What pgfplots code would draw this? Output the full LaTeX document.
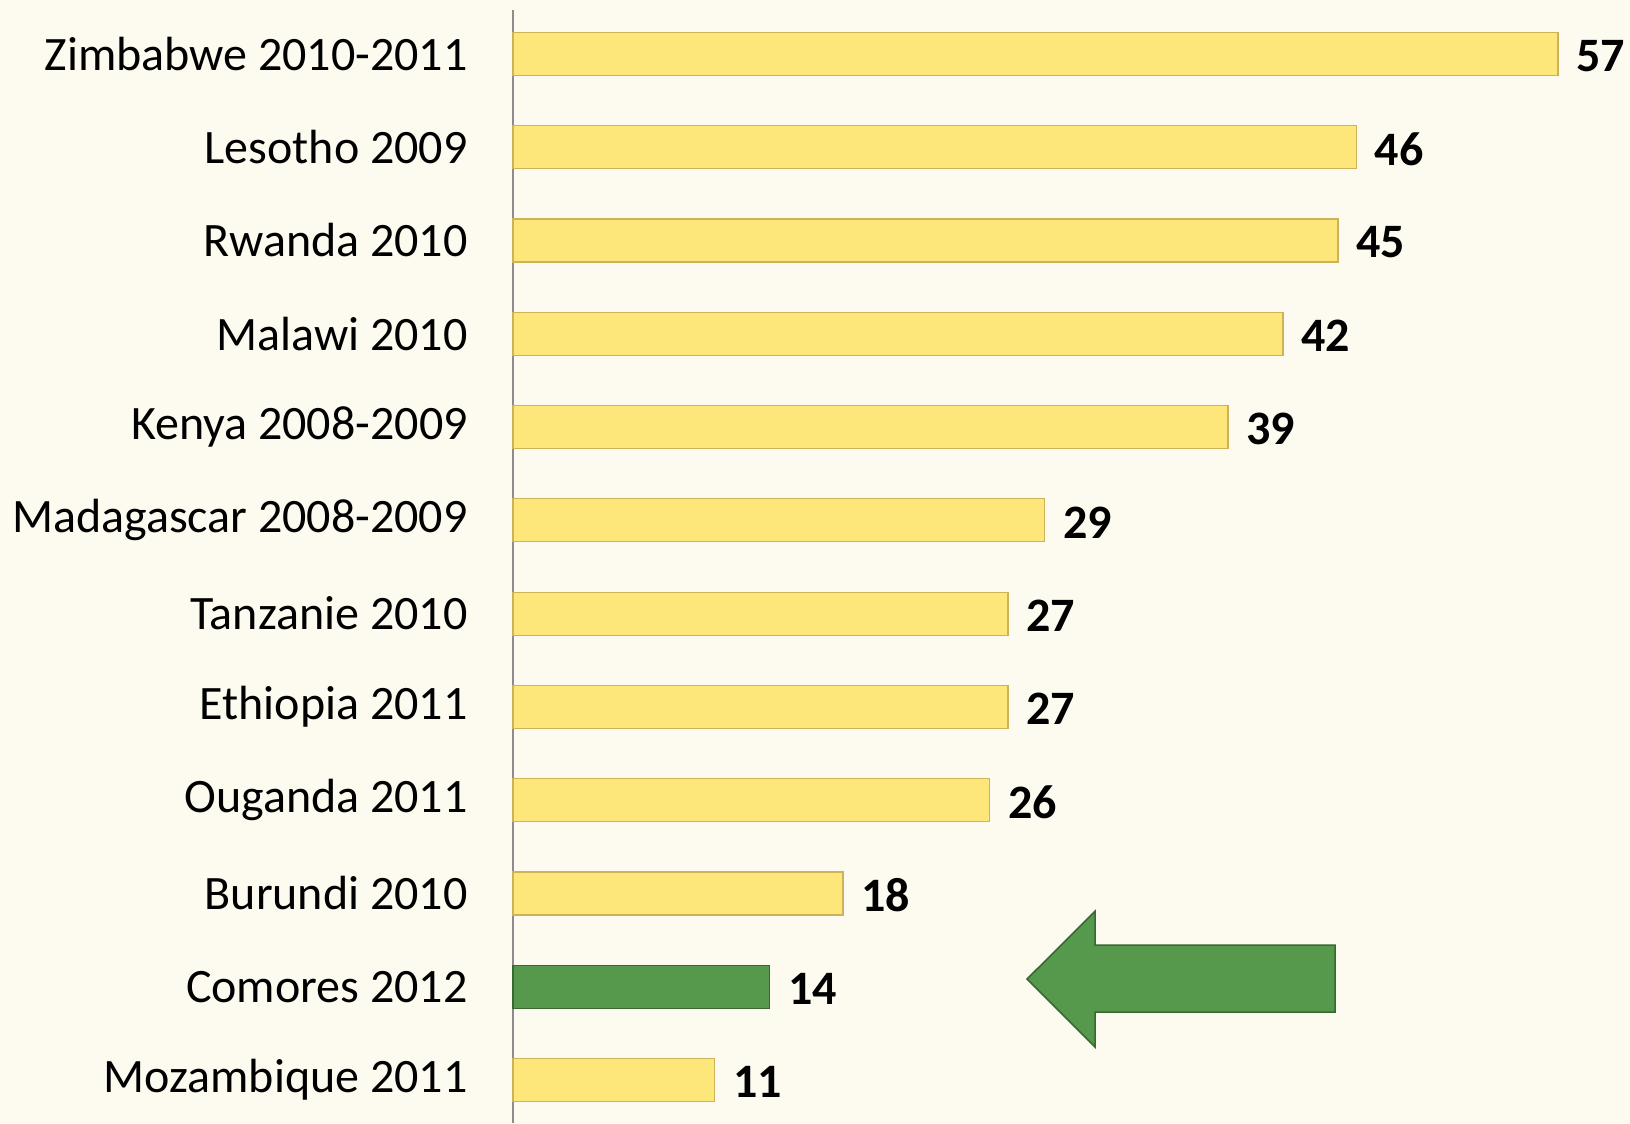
\documentclass[border=0pt]{standalone}
\usepackage{pgfplots}
\pgfplotsset{compat=1.18}
\usepackage{fontspec}
\setmainfont{Carlito}
\definecolor{bg}{RGB}{253,251,240}
\definecolor{barY}{RGB}{253,231,122}
\definecolor{barYl}{RGB}{255,243,170}
\definecolor{barYd}{RGB}{205,178,90}
\definecolor{barG}{RGB}{86,152,76}
\definecolor{barGl}{RGB}{130,200,115}
\definecolor{barGd}{RGB}{55,105,48}
\pgfdeclareverticalshading{bevelY}{100bp}{color(0bp)=(barYd); color(8bp)=(barY); color(86bp)=(barY); color(94bp)=(barYl); color(100bp)=(barYl)}
\pgfdeclareverticalshading{bevelG}{100bp}{color(0bp)=(barGd); color(8bp)=(barG); color(86bp)=(barG); color(94bp)=(barGl); color(100bp)=(barGl)}
\begin{document}
\begin{tikzpicture}
\fill[bg] (0pt,0pt) rectangle (815pt,561.5pt);
\begin{axis}[
  at={(256.5pt,0pt)}, anchor=south west,
  scale only axis,
  width=550pt, height=556.5pt,
  xmin=0, xmax=60, ymin=-0.46, ymax=11.47,
  axis x line=none,
  axis y line*=left,
  y axis line style={draw=gray!90, line width=1pt, -},
  xbar, bar width=21.5pt, bar shift=0pt,
  ytick={0,...,11},
  yticklabels={Mozambique 2011, Comores 2012, Burundi 2010, Ouganda 2011, Ethiopia 2011, Tanzanie 2010, Madagascar 2008-2009, Kenya 2008-2009, Malawi 2010, Rwanda 2010, Lesotho 2009, Zimbabwe 2010-2011},
  major tick length=0pt,
  yticklabel style={font=\fontsize{24}{28}\selectfont, inner sep=0pt, anchor=east, xshift=-22.5pt},
  nodes near coords,
  nodes near coords style={font=\fontsize{24}{28}\selectfont\bfseries, /pgf/number format/assume math mode=true, anchor=west, inner sep=0pt, xshift=9pt, yshift=-1pt},
  clip=false,
]
\addplot[shading=bevelY, draw=barYd, line width=0.6pt] coordinates {
(11,0) (18,2) (26,3) (27,4) (27,5) (29,6) (39,7) (42,8) (45,9) (46,10) (57,11)};
\addplot[shading=bevelG, draw=barGd, line width=0.6pt] coordinates {(14,1)};
\draw[fill=barG, draw=barGd, line width=0.8pt]
  (axis cs:28.04,1.083) -- (axis cs:31.75,1.81) -- (axis cs:31.75,1.447)
  -- (axis cs:44.84,1.447) -- (axis cs:44.84,0.729) -- (axis cs:31.75,0.729)
  -- (axis cs:31.75,0.354) -- cycle;
\end{axis}
\end{tikzpicture}
\end{document}
